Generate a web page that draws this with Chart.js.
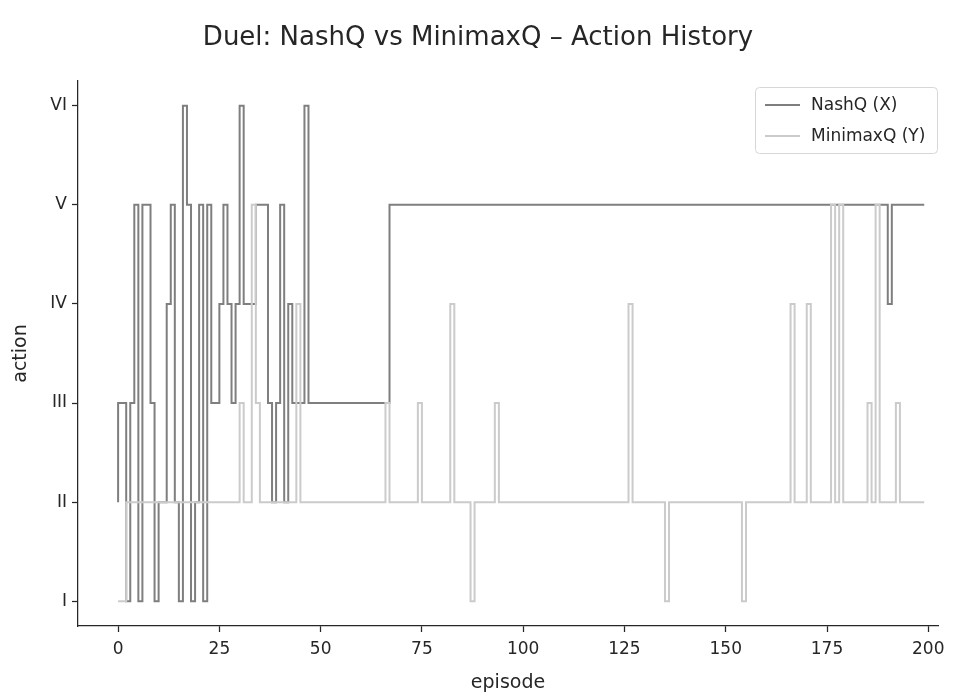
<!DOCTYPE html>
<html>
<head>
<meta charset="utf-8">
<title>Duel: NashQ vs MinimaxQ – Action History</title>
<script src="https://cdn.jsdelivr.net/npm/chart.js@4.4.1/dist/chart.umd.min.js"></script>
<style>
  html, body { margin: 0; padding: 0; background: #ffffff; }
  #wrap { width: 956px; height: 696px; }
</style>
</head>
<body>
<div id="wrap"><canvas id="c" width="956" height="696"></canvas></div>
<script>
// ---------------- data ----------------
const TITLE = 'Duel: NashQ vs MinimaxQ – Action History';
const X_TITLE = 'episode';
const Y_TITLE = 'action';
const ACTION_LABELS = ['I', 'II', 'III', 'IV', 'V', 'VI'];
const ACTION_LEVELS = [1, 2, 3, 4, 5, 6];
const X_TICKS = [0, 25, 50, 75, 100, 125, 150, 175, 200];
const SERIES_NAMES = ['NashQ (X)', 'MinimaxQ (Y)'];

// action per episode (1 = I ... 6 = VI), episodes 0..199
const NASHQ_X = [
  2,3,3,1,3,5,1,5,5,3,
  1,2,2,4,5,2,1,6,5,1,
  2,5,1,5,3,3,4,5,4,3,
  4,6,4,4,4,5,5,5,3,2,
  3,5,2,4,3,3,3,6,3,3,
  3,3,3,3,3,3,3,3,3,3,
  3,3,3,3,3,3,3,3,5,5,
  5,5,5,5,5,5,5,5,5,5,
  5,5,5,5,5,5,5,5,5,5,
  5,5,5,5,5,5,5,5,5,5,
  5,5,5,5,5,5,5,5,5,5,
  5,5,5,5,5,5,5,5,5,5,
  5,5,5,5,5,5,5,5,5,5,
  5,5,5,5,5,5,5,5,5,5,
  5,5,5,5,5,5,5,5,5,5,
  5,5,5,5,5,5,5,5,5,5,
  5,5,5,5,5,5,5,5,5,5,
  5,5,5,5,5,5,5,5,5,5,
  5,5,5,5,5,5,5,5,5,5,
  5,4,5,5,5,5,5,5,5,5
];

const MINIMAXQ_Y = [
  1,1,1,2,2,2,2,2,2,2,
  2,2,2,2,2,2,2,2,2,2,
  2,2,2,2,2,2,2,2,2,2,
  2,3,2,2,5,3,2,2,2,2,
  2,2,2,2,2,4,2,2,2,2,
  2,2,2,2,2,2,2,2,2,2,
  2,2,2,2,2,2,2,3,2,2,
  2,2,2,2,2,3,2,2,2,2,
  2,2,2,4,2,2,2,2,1,2,
  2,2,2,2,3,2,2,2,2,2,
  2,2,2,2,2,2,2,2,2,2,
  2,2,2,2,2,2,2,2,2,2,
  2,2,2,2,2,2,2,4,2,2,
  2,2,2,2,2,2,1,2,2,2,
  2,2,2,2,2,2,2,2,2,2,
  2,2,2,2,2,1,2,2,2,2,
  2,2,2,2,2,2,2,4,2,2,
  2,4,2,2,2,2,2,5,2,5,
  2,2,2,2,2,2,3,2,5,2,
  2,2,2,3,2,2,2,2,2,2
];

const EPISODES = NASHQ_X.map((_, i) => i);

// ---------------- style ----------------
const FONT = "'DejaVu Sans', 'Liberation Sans', sans-serif";
const INK = '#262626';
const DARK = '#7f7f7f';
const LIGHT = '#cbcbcb';

// title + legend drawn on the canvas
const decorPlugin = {
  id: 'decor',
  afterDraw(chart) {
    const ctx = chart.ctx;
    ctx.save();
    // title
    ctx.fillStyle = INK;
    ctx.font = '26px ' + FONT;
    ctx.textAlign = 'center';
    ctx.textBaseline = 'middle';
    ctx.fillText(TITLE, 478, 38);

    // legend box
    const bx = 755.5, by = 87.5, bw = 182, bh = 66, r = 4;
    ctx.beginPath();
    ctx.moveTo(bx + r, by);
    ctx.lineTo(bx + bw - r, by);
    ctx.quadraticCurveTo(bx + bw, by, bx + bw, by + r);
    ctx.lineTo(bx + bw, by + bh - r);
    ctx.quadraticCurveTo(bx + bw, by + bh, bx + bw - r, by + bh);
    ctx.lineTo(bx + r, by + bh);
    ctx.quadraticCurveTo(bx, by + bh, bx, by + bh - r);
    ctx.lineTo(bx, by + r);
    ctx.quadraticCurveTo(bx, by, bx + r, by);
    ctx.closePath();
    ctx.fillStyle = 'rgba(255,255,255,0.85)';
    ctx.fill();
    ctx.strokeStyle = '#d6d6d6';
    ctx.lineWidth = 1;
    ctx.stroke();

    const colors = [DARK, LIGHT];
    const ys = [105, 136];
    ctx.font = '17px ' + FONT;
    ctx.textAlign = 'left';
    ctx.textBaseline = 'middle';
    for (let i = 0; i < SERIES_NAMES.length; i++) {
      ctx.strokeStyle = colors[i];
      ctx.lineWidth = 2;
      ctx.beginPath();
      ctx.moveTo(765, ys[i]);
      ctx.lineTo(800, ys[i]);
      ctx.stroke();
      ctx.fillStyle = INK;
      ctx.fillText(SERIES_NAMES[i], 811, ys[i] + 1);
    }
    ctx.restore();
  }
};

new Chart(document.getElementById('c'), {
  type: 'line',
  data: {
    labels: EPISODES,
    datasets: [
      {
        label: SERIES_NAMES[0],
        data: NASHQ_X,
        borderColor: DARK,
        borderWidth: 2,
        pointRadius: 0,
        fill: false,
        stepped: 'after',
        order: 1
      },
      {
        label: SERIES_NAMES[1],
        data: MINIMAXQ_Y,
        borderColor: LIGHT,
        borderWidth: 2,
        pointRadius: 0,
        fill: false,
        stepped: 'after',
        order: 0
      }
    ]
  },
  options: {
    responsive: false,
    animation: false,
    devicePixelRatio: 1,
    layout: { padding: { left: 0, right: 18, top: 81, bottom: 0 } },
    plugins: {
      legend: { display: false },
      tooltip: { enabled: false },
      title: { display: false }
    },
    scales: {
      x: {
        type: 'linear',
        min: -9.9,
        max: 202.4,
        afterFit(scale) { scale.height = 70; },
        afterBuildTicks(scale) { scale.ticks = X_TICKS.map(v => ({ value: v })); },
        grid: { display: true, drawOnChartArea: false, drawTicks: true, tickLength: 6, tickColor: INK, tickWidth: 1.25 },
        border: { display: true, color: INK, width: 1.25 },
        ticks: { color: INK, font: { family: FONT, size: 17 }, padding: 7, maxRotation: 0, autoSkip: false },
        title: { display: true, text: X_TITLE, color: INK, font: { family: FONT, size: 19 }, padding: { top: 0, bottom: 2 } }
      },
      y: {
        type: 'linear',
        min: 0.75,
        max: 6.25,
        afterFit(scale) { scale.width = 78; },
        afterBuildTicks(scale) { scale.ticks = ACTION_LEVELS.map(v => ({ value: v })); },
        grid: { display: true, drawOnChartArea: false, drawTicks: true, tickLength: 6, tickColor: INK, tickWidth: 1.25 },
        border: { display: true, color: INK, width: 1.25 },
        ticks: {
          color: INK,
          font: { family: FONT, size: 17 },
          padding: 5,
          autoSkip: false,
          callback: (v) => ACTION_LABELS[ACTION_LEVELS.indexOf(v)] ?? ''
        },
        title: { display: true, text: Y_TITLE, color: INK, font: { family: FONT, size: 19 }, padding: { top: 10, bottom: 0 } }
      }
    }
  },
  plugins: [decorPlugin]
});
</script>
</body>
</html>
